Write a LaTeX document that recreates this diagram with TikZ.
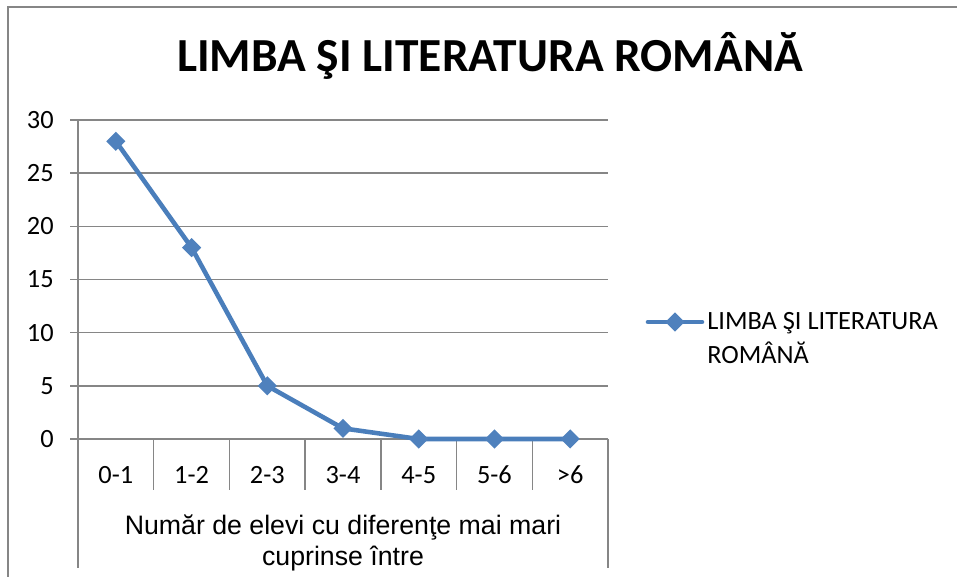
\documentclass[tikz,border=0pt]{standalone}
\usepackage{fontspec}
\setmainfont{Carlito}
\newfontfamily\arialfont{Liberation Sans}
\usetikzlibrary{shapes.geometric}
\definecolor{serieblue}{HTML}{4A7EBB}
\definecolor{markblue}{HTML}{4F81BD}
\definecolor{gridgray}{HTML}{868686}

\begin{document}
\begin{tikzpicture}[x=0.02cm,y=-0.02cm]
    \tikzstyle{grid}=[draw=gridgray, line width=0.8pt]
    \tikzstyle{point}=[diamond, fill=markblue, minimum width=0.39cm, minimum height=0.39cm, inner sep=0pt]
    \tikzstyle{serie}=[draw=serieblue, line width=2.6pt, line join=round]
    \tikzstyle{ticklabel}=[inner sep=0pt, font=\fontsize{15}{19.3}\selectfont]

    \useasboundingbox (0,0) rectangle (957,577);
    \draw[grid] (957,7) -- (8,7) -- (8,577);

    \node[anchor=base, inner sep=0pt, font=\bfseries\fontsize{27}{32}\selectfont] (title) at (490,72) {LIMBA ŞI LITERATURA ROMÂNĂ};

    % value axis
    \foreach \v in {0,5,...,30} {
        \draw[grid] (70,{439-10.633*\v}) -- (608,{439-10.633*\v});
        \node[ticklabel, anchor=east] (y\v) at (54,{439-10.633*\v}) {\v};
    }
    \draw[grid] (78,120) -- (78,568);
    \draw[grid] (608,439) -- (608,568);
    \foreach \i in {1,...,6}
        \draw[grid] ({78+75.714*\i},439) -- ({78+75.714*\i},490);

    % categories
    \foreach \c [count=\i] in {0-1,1-2,2-3,3-4,4-5,5-6,>6}
        \node[ticklabel, anchor=base] (c\i) at ({78+75.714*(\i-0.5)},483) {\c};
    \node[inner sep=0pt, align=center, font=\arialfont\fontsize{15.2}{17.6}\selectfont] (xtitle) at (343,543)
        {Număr de elevi cu diferenţe mai mari\\cuprinse între};

    % data
    \foreach \v [count=\i] in {28,18,5,1,0,0,0}
        \coordinate (p\i) at ({78+75.714*(\i-0.5)},{439-10.633*\v});
    \draw[serie] (p1) -- (p2) -- (p3) -- (p4) -- (p5) -- (p6) -- (p7);
    \foreach \i in {1,...,7}
        \node[point] (d\i) at (p\i) {};

    % legend
    \coordinate (la) at (648,322);
    \coordinate (lb) at (702,322);
    \draw[serie, line cap=round] (la) -- (lb);
    \node[point] (lm) at (675,322) {};
    \node[ticklabel, anchor=west, align=left] (ltext) at (707,338) {LIMBA ŞI LITERATURA\\ROMÂNĂ};
\end{tikzpicture}
\end{document}
